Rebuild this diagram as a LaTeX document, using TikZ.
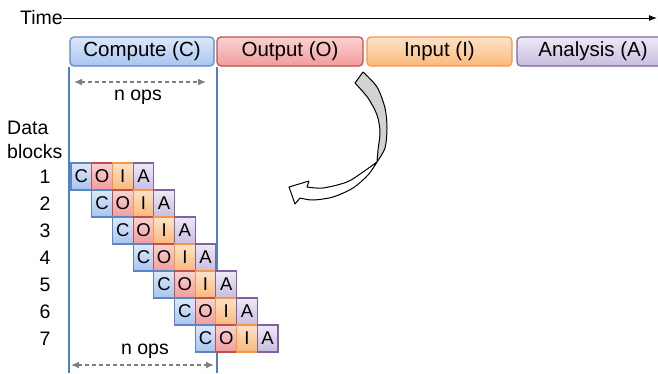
\documentclass[tikz,border=0pt]{standalone}
\usepackage{fontspec}
\setmainfont{Liberation Sans}
\usetikzlibrary{arrows.meta}
\definecolor{bline}{HTML}{5B86C2}
\definecolor{btop}{HTML}{DCE8FB}
\definecolor{bbot}{HTML}{A8C5F0}
\definecolor{rline}{HTML}{C0504D}
\definecolor{rtop}{HTML}{FAD2D2}
\definecolor{rbot}{HTML}{F29C9C}
\definecolor{oline}{HTML}{F79646}
\definecolor{otop}{HTML}{FDE3C8}
\definecolor{obot}{HTML}{F9B97A}
\definecolor{pline}{HTML}{8064A2}
\definecolor{ptop}{HTML}{EEE9F5}
\definecolor{pbot}{HTML}{C9BCE0}
\definecolor{vline}{HTML}{4F81BD}
\definecolor{spangray}{HTML}{7F7F7F}

\begin{document}
\begin{tikzpicture}[x=1pt,y=-1pt,
  lbl/.style={inner sep=0pt, font=\fontsize{19.5}{24}\selectfont},
  phase/.style={draw, rounded corners=4pt, minimum height=29pt, inner sep=0pt, line width=1.2pt, font=\fontsize{20.5}{22}\selectfont},
  cell/.style={draw, minimum width=20.7pt, minimum height=27pt, inner sep=0pt, line width=1.1pt, font=\fontsize{18.5}{20}\selectfont},
  ccol/.style={draw=bline, top color=btop, bottom color=bbot},
  ocol/.style={draw=rline, top color=rtop, bottom color=rbot},
  icol/.style={draw=oline, top color=otop, bottom color=obot},
  acol/.style={draw=pline, top color=ptop, bottom color=pbot},
  span/.style={spangray, line width=1.4pt, dash pattern=on 4pt off 3pt, {Latex[length=8pt,width=7pt]}-{Latex[length=8pt,width=7pt]}}]
\useasboundingbox (0,0) rectangle (658,373);

% time axis
\node[lbl, anchor=east] (time) at (63,18) {Time};
\coordinate (tend) at (657,18);
\draw[line width=1pt, -{Latex[length=8pt,width=6pt]}] (time.east) -- (tend);

% phases
\node[phase, ccol, minimum width=144pt] (comp) at (142,51.5) {Compute (C)};
\node[phase, ocol, minimum width=146pt] (outp) at (290,51.5) {Output (O)};
\node[phase, icol, minimum width=145pt] (inp) at (439.5,51.5) {Input (I)};
\node[phase, acol, minimum width=152pt] (ana) at (593,51.5) {Analysis (A)};

% compute window
\coordinate (wl1) at (69,67);
\coordinate (wl2) at (69,373);
\coordinate (wr1) at (217,67);
\coordinate (wr2) at (217,373);
\draw[vline, line width=1.2pt] (wl1) -- (wl2);
\draw[vline, line width=1.2pt] (wr1) -- (wr2);

\coordinate (sa1) at (74,82);
\coordinate (sb1) at (206,82);
\draw[span] (sa1) -- (sb1);
\node[lbl] (ops1) at (138,97) {n ops};
\coordinate (sa2) at (71,365);
\coordinate (sb2) at (214,365);
\draw[span] (sa2) -- (sb2);
\node[lbl] (ops2) at (145,351) {n ops};

% blocks
\node[lbl, anchor=west, align=left] (dblk) at (7,140) {Data\\blocks};
\foreach \k in {1,...,7}{
  \node[lbl] (r\k) at (45,{176.5+27*(\k-1)}) {\k};
  \foreach \t/\sty [count=\j from 0] in {C/ccol,O/ocol,I/icol,A/acol}
    \node[cell, \sty] (b\k\j) at ({81.35+20.7*(\k-1+\j)},{176.5+27*(\k-1)}) {\t};
}

% reorder arrow
\filldraw[fill=gray!35, line width=1pt, line join=round]
  plot[smooth] coordinates {(363,72) (377,87) (385,108) (387,128) (385,148) (377,162)}
  -- plot[smooth] coordinates {(377,162) (378,150) (380,132) (377,115) (368,98) (355,83)} -- cycle;
\filldraw[fill=white, line width=1pt, line join=round]
  plot[smooth] coordinates {(377,162) (368,175) (353,188) (333,197) (313,200) (300,198)}
  -- (295,204) -- (289,187) -- (309,181)
  -- plot[smooth] coordinates {(307,187) (323,188) (347,182) (363,172) (377,162)} -- cycle;
\end{tikzpicture}
\end{document}
